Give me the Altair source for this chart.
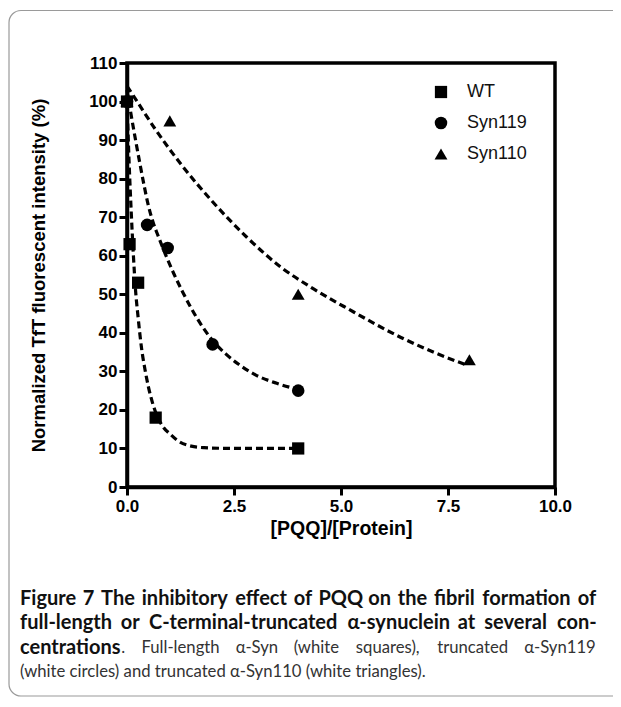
import altair as alt
import pandas as pd

# ---- data ----
series_names = ["WT", "Syn119", "Syn110"]

wt_x = [0.0, 0.06, 0.26, 0.67, 4.0]
wt_y = [100, 63, 53, 18, 10]
s119_x = [0.0, 0.47, 0.95, 2.0, 4.0]
s119_y = [100, 68, 62, 37, 25]
s110_x = [0.0, 1.0, 4.0, 8.0]
s110_y = [100, 95, 50, 33]

# dashed fitted curves
wt_cx = [0, 0.05, 0.1, 0.15, 0.2, 0.26, 0.34, 0.42, 0.5, 0.6, 0.7, 0.85, 1.0, 1.2, 1.5, 1.8, 2.2, 3.0, 4.0]
wt_cy = [100, 84, 71, 60, 51, 44, 36, 30.5, 26, 21.7, 18.5, 15.5, 13.8, 11.9, 10.6, 10.2, 10.05, 10, 10]
s119_cx = [0, 0.1, 0.2, 0.3, 0.4, 0.5, 0.6, 0.75, 0.9, 1.1, 1.3, 1.5, 1.75, 2.0, 2.3, 2.6, 3.0, 3.5, 4.0]
s119_cy = [103, 96.3, 90, 84, 78.2, 73, 69, 64.5, 60.3, 55.2, 50.6, 46.4, 41.8, 38, 34.6, 31.9, 29.1, 26.9, 25.3]
s110_cx = [0, 0.15, 0.65, 1.3, 2.0, 2.8, 3.6, 4.3, 5.2, 6.4, 7.2, 7.95]
s110_cy = [104, 101.5, 93, 83.2, 74, 64.8, 57, 51.8, 46, 38.8, 34.8, 31.6]

x_ticks = [0, 2.5, 5, 7.5, 10]
y_ticks = list(range(0, 111, 10))

# caption: justified lines as (word, bold) tokens; "+" prefix = attached to previous word
cap_lines = [
    [("Figure", 1), ("7", 1), ("The", 1), ("inhibitory", 1), ("effect", 1), ("of", 1),
     ("PQQ", 1), ("on", 1), ("the", 1), ("fibril", 1), ("formation", 1), ("of", 1)],
    [("full-length", 1), ("or", 1), ("C-terminal-truncated", 1), ("\u03b1-synuclein", 1),
     ("at", 1), ("several", 1), ("con-", 1)],
    [("centrations", 1), ("+.", 0), ("Full-length", 0), ("\u03b1-Syn", 0), ("(white", 0),
     ("squares),", 0), ("truncated", 0), ("\u03b1-Syn119", 0)],
]
cap_last = "(white circles) and truncated \u03b1-Syn110 (white triangles)."

# ---- tables ----
pts = pd.concat([
    pd.DataFrame({"x": s110_x, "y": s110_y, "series": "Syn110", "o": 0}),
    pd.DataFrame({"x": s119_x, "y": s119_y, "series": "Syn119", "o": 1}),
    pd.DataFrame({"x": wt_x, "y": wt_y, "series": "WT", "o": 2}),
], ignore_index=True)

curves = pd.concat([
    pd.DataFrame({"x": wt_cx, "y": wt_cy, "series": "WT"}),
    pd.DataFrame({"x": s119_cx, "y": s119_cy, "series": "Syn119"}),
    pd.DataFrame({"x": s110_cx, "y": s110_cy, "series": "Syn110"}),
], ignore_index=True)

PW, PH = 428, 424
AX = "Liberation Sans"

xscale = alt.Scale(domain=[0, 10], nice=False, zero=False)
yscale = alt.Scale(domain=[0, 110], nice=False)

xaxis = alt.Axis(values=x_ticks, format=".1f", title="[PQQ]/[Protein]", titleFontSize=19.5,
                 labelFlush=False, labelOverlap=False, grid=False, labelPadding=3, titlePadding=5)
yaxis = alt.Axis(values=y_ticks, format="d", title="Normalized TfT fluorescent intensity (%)",
                 titleFontSize=18.5,
                 labelFlush=False, labelOverlap=False, grid=False, labelPadding=2, titlePadding=40)

lines = alt.Chart(curves).mark_line(
    color="black", strokeWidth=3.2, strokeDash=[7, 4], interpolate="monotone"
).encode(
    x=alt.X("x:Q", scale=xscale, axis=xaxis),
    y=alt.Y("y:Q", scale=yscale, axis=yaxis),
    detail="series:N",
)

leg = alt.Legend(title=None, orient="none", legendX=305, legendY=20,
                 labelFont=AX, labelFontSize=18, labelColor="#111",
                 labelOffset=17, rowPadding=13, symbolFillColor="black",
                 symbolStrokeColor="black", symbolStrokeWidth=0, padding=0)

points = alt.Chart(pts).mark_point(
    filled=True, color="black", opacity=1
).encode(
    x=alt.X("x:Q", scale=xscale, axis=xaxis),
    y=alt.Y("y:Q", scale=yscale, axis=yaxis),
    shape=alt.Shape("series:N",
                    scale=alt.Scale(domain=series_names, range=["square", "circle", "triangle-up"]),
                    legend=leg),
    size=alt.Size("series:N",
                  scale=alt.Scale(domain=series_names, range=[150, 165, 200]),
                  legend=leg),
    order="o:Q",
)

one = pd.DataFrame({"a": [0]})
border = alt.Chart(one).mark_rect(
    fill=None, stroke="#9a9a9a", strokeWidth=1.2, cornerRadius=12
).encode(
    x=alt.value(-118), x2=alt.value(620), y=alt.value(-52.5), y2=alt.value(633)
)

# ---- caption layout (approximate Lato advance widths, em) ----
BOLD_W = dict(a=.51, b=.56, c=.46, d=.56, e=.53, f=.33, g=.5, h=.56, i=.26, j=.26, k=.52,
              l=.26, m=.84, n=.56, o=.56, p=.56, q=.56, r=.38, s=.42, t=.36, u=.56, v=.5,
              w=.77, x=.5, y=.5, z=.44)
REG_W = dict(a=.49, b=.54, c=.44, d=.54, e=.5, f=.3, g=.48, h=.54, i=.23, j=.23, k=.47,
             l=.23, m=.8, n=.54, o=.54, p=.54, q=.54, r=.35, s=.4, t=.33, u=.54, v=.47,
             w=.72, x=.46, y=.47, z=.42)
OTHER = {"-": .33, ".": .21, ",": .21, "(": .3, ")": .3, "\u03b1": .53, "F": .52, "T": .58,
         "P": .6, "Q": .76, "C": .66, "S": .52, " ": .2}
BFS, RFS = 20, 16.7


def word_w(w, bold):
    tab = BOLD_W if bold else REG_W
    em = 0
    for ch in w:
        if ch in tab:
            em += tab[ch]
        elif ch.isdigit():
            em += .58
        else:
            em += OTHER.get(ch, .55)
    return em * (BFS * 1.02 if bold else RFS * 1.04)


CAP = "Lato"
LEFT, RIGHT = -107, 469   # page x 20 .. 596
line_y = [535.5, 560, 584.5, 609]
cap_rows = []
for li, toks in enumerate(cap_lines):
    groups = []
    for w, b in toks:
        if w.startswith("+"):
            groups[-1].append((w[1:], b))
        else:
            groups.append([(w, b)])
    widths = [sum(word_w(w, b) for w, b in g) for g in groups]
    gap = (RIGHT - LEFT - sum(widths)) / (len(groups) - 1)
    x = LEFT
    for g, gw in zip(groups, widths):
        xx = x
        for w, b in g:
            cap_rows.append({"t": w, "x": xx, "y": line_y[li], "b": b})
            xx += word_w(w, b)
        x += gw + gap
cap_rows.append({"t": cap_last, "x": LEFT, "y": line_y[3], "b": 0})
capdf = pd.DataFrame(cap_rows)

cap_bold = alt.Chart(capdf[capdf.b == 1]).mark_text(
    align="left", baseline="middle", font=CAP, fontSize=BFS, fontWeight="bold", color="#111"
).encode(x=alt.X("x:Q", scale=None, axis=None), y=alt.Y("y:Q", scale=None, axis=None), text="t:N")
cap_reg = alt.Chart(capdf[capdf.b == 0]).mark_text(
    align="left", baseline="middle", font=CAP, fontSize=RFS, fontWeight="normal", color="#333"
).encode(x=alt.X("x:Q", scale=None, axis=None), y=alt.Y("y:Q", scale=None, axis=None), text="t:N")

chart = alt.layer(border, lines, points, cap_bold, cap_reg).properties(
    width=PW, height=PH,
    autosize=alt.AutoSizeParams(type="none"),
    padding={"left": 119, "top": 55, "right": 58, "bottom": 210},
    background="white",
).configure_view(
    stroke="black", strokeWidth=3.5
).configure_axis(
    labelFont=AX, labelFontWeight="bold", labelFontSize=17, labelColor="black",
    titleFont=AX, titleFontWeight="bold", titleColor="black",
    domainColor="black", domainWidth=3.5, tickColor="black", tickWidth=3, tickSize=8,
)

chart.save("out.html", embed_options={"renderer": "svg", "actions": False})
